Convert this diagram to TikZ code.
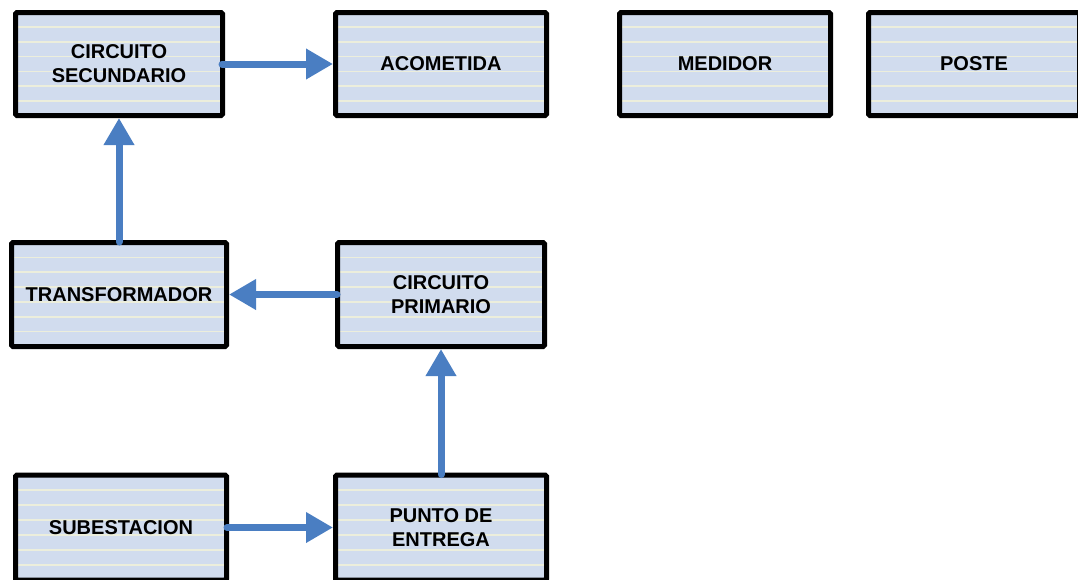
\documentclass[tikz,border=0pt]{standalone}
\usepackage{fontspec}
\setmainfont{Liberation Sans}
\usetikzlibrary{arrows.meta,calc}
\definecolor{boxfill}{RGB}{209,220,238}
\definecolor{stripecol}{RGB}{236,238,220}
\definecolor{arrowcol}{RGB}{74,126,194}
\tikzset{
  box/.style={draw=black, line width=5pt, rounded corners=1.5pt, fill=boxfill,
    font=\bfseries\fontsize{20}{24}\selectfont, align=center, inner sep=0pt,
    path picture={
      \foreach \k in {1,...,6}{
        \draw[stripecol, line width=1.6pt]
          ($(path picture bounding box.north west)!\k/7!(path picture bounding box.south west)$) --
          ($(path picture bounding box.north east)!\k/7!(path picture bounding box.south east)$);
      }
    }},
  flow/.style={draw=arrowcol, line width=7pt, line cap=round,
    -{Triangle[length=27pt,width=29pt]}}
}
\begin{document}
\begin{tikzpicture}[x=1pt,y=-1pt]
\useasboundingbox (0,0) rectangle (1078,579);
\node[box, minimum width=207pt, minimum height=103pt] (sec) at (119,64) {CIRCUITO\\SECUNDARIO};
\node[box, minimum width=211pt, minimum height=103pt] (aco) at (441,64) {ACOMETIDA};
\node[box, minimum width=211pt, minimum height=103pt] (med) at (725,64) {MEDIDOR};
\node[box, minimum width=211pt, minimum height=103pt] (pos) at (974,64) {POSTE};
\node[box, minimum width=215pt, minimum height=104pt] (tra) at (119,294.5) {TRANSFORMADOR};
\node[box, minimum width=207pt, minimum height=104pt] (pri) at (441,294.5) {CIRCUITO\\PRIMARIO};
\node[box, minimum width=211pt, minimum height=105pt] (sub) at (121,527.5) {SUBESTACION};
\node[box, minimum width=211pt, minimum height=105pt] (pun) at (441,527.5) {PUNTO DE\\ENTREGA};
\draw[flow] ([xshift=-3pt]sec.east) -- (aco.west);
\draw[flow] ([yshift=-2pt]tra.north) -- (sec.south);
\draw[flow] ([xshift=2pt]pri.west) -- (tra.east);
\draw[flow] ([yshift=-2pt]pun.north) -- (pri.south);
\draw[flow] ([xshift=-2pt]sub.east) -- (pun.west);
\end{tikzpicture}
\end{document}
